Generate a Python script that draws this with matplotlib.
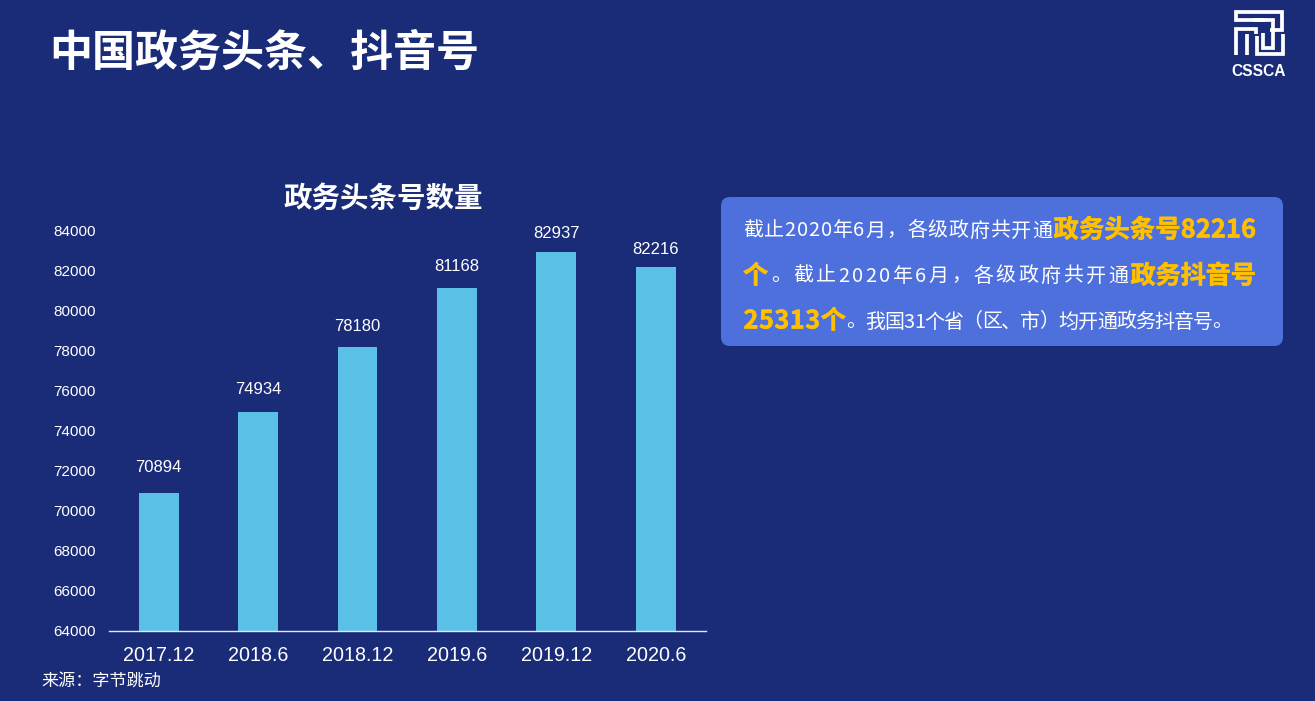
"""中国政务头条、抖音号 — 政务头条号数量柱状图"""

import matplotlib
matplotlib.use("Agg")
import matplotlib.pyplot as plt
import matplotlib.patheffects as pe
from matplotlib.lines import Line2D
from matplotlib.patches import FancyBboxPatch
from matplotlib.transforms import Affine2D

plt.rcParams["font.family"] = ["Noto Sans CJK SC", "DejaVu Sans"]

W, H = 1315, 701
BG = "#1a2c78"
BAR = "#5bc0e6"
BOX = "#4e70dc"
GOLD = "#ffc000"

periods = ["2017.12", "2018.6", "2018.12", "2019.6", "2019.12", "2020.6"]
counts = [70894, 74934, 78180, 81168, 82937, 82216]
y_ticks = [64000, 66000, 68000, 70000, 72000, 74000, 76000, 78000, 80000, 82000, 84000]
# 数值标签离柱顶的距离 (px), 原图并不等距
label_gaps = [26, 23, 21, 21, 19, 17]

fig = plt.figure(figsize=(W / 100, H / 100), dpi=100, facecolor=BG)
# 全图用像素坐标, y 向下
px = Affine2D().scale(1, -1).translate(0, H)


def put(x, y, s, size, color="white", weight="normal", ha="left", **kw):
    return fig.text(x, y, s, transform=px, fontsize=size, color=color,
                    fontweight=weight, ha=ha, va="center", **kw)


def spread(s, x0, x1, y, size, color="white", weight="normal"):
    """逐字排版, 把字均匀撑满 x0..x1."""
    renderer = fig.canvas.get_renderer()
    items = [put(0, y, c, size, color, weight) for c in s]
    advance = []
    for c, t in zip(s, items):
        w = t.get_window_extent(renderer).width
        advance.append(size * 100 / 72 if ord(c) > 255 else w)
        if weight == "bold":
            # 原图金色字比 Bold 更粗
            t.set_path_effects([pe.withStroke(linewidth=0.4, foreground=color)])
    gap = (x1 - x0 - sum(advance)) / max(len(s) - 1, 1)
    x = x0
    for t, a in zip(items, advance):
        t.set_x(x)
        x += a + gap


ax = fig.add_axes([109 / W, 1 - 631 / H, 596.5 / W, 400 / H])
ax.set_facecolor(BG)
ax.bar(range(len(periods)), counts, width=0.4, color=BAR, zorder=2)
for i, v in enumerate(counts):
    ax.annotate(str(v), (i, v), xytext=(0, label_gaps[i] * 0.72), textcoords="offset points",
                ha="center", va="center", color="white", fontsize=12,
                family="Liberation Sans")
ax.set_xlim(-0.5, 5.5)
ax.set_ylim(64000, 84000)
ax.set_yticks(y_ticks)
ax.set_xticks(range(len(periods)))
ax.set_xticklabels(periods, fontsize=14.2, family="Liberation Sans", color="white")
for lab in ax.get_yticklabels():
    lab.set_fontsize(11)
    lab.set_family("Liberation Sans")
    lab.set_color("white")
ax.tick_params(length=0)
ax.tick_params(axis="x", pad=10.5)
ax.tick_params(axis="y", pad=9.5)
for side in ["top", "right", "left"]:
    ax.spines[side].set_visible(False)
ax.spines["bottom"].set_color("#dfe6f5")
ax.spines["bottom"].set_linewidth(1.0)

put(49, 54, "中国政务头条、抖音号", 31, weight="bold")
put(383, 199, "政务头条号数量", 20.5, weight="bold", ha="center")
put(41, 681, "来源：字节跳动", 12.3)

fig.add_artist(FancyBboxPatch((727, 203), 550, 137, boxstyle="round,pad=6,rounding_size=9",
                              transform=px, facecolor=BOX, edgecolor="none"))

spread("截止2020年6月，各级政府共开通", 743, 1052, 231, 14.4)
spread("政务头条号82216", 1053.5, 1256, 230, 18.2, GOLD, "bold")
spread("个", 743, 767, 276, 18.2, GOLD, "bold")
spread("。截止2020年6月，各级政府共开通", 771, 1128, 276, 14.4)
spread("政务抖音号", 1130.5, 1256, 276, 18.2, GOLD, "bold")
spread("25313个", 743.5, 846, 321, 18.2, GOLD, "bold")
spread("。我国31个省（区、市）均开通政务抖音号。", 846, 1232, 322, 14.4)

# logo
logo_paths = [
    [(1265, 20), (1236, 20), (1236, 11.5), (1282, 11.5), (1282, 30), (1270, 30)],
    [(1253, 20), (1273, 20), (1273, 48), (1263, 48), (1263, 33)],
    [(1236, 55), (1236, 29), (1256, 29), (1256, 34)],
    [(1247, 55), (1247, 34)],
    [(1257, 36), (1257, 53.5), (1283, 53.5), (1283, 34)],
]
for path in logo_paths:
    fig.add_artist(Line2D([p[0] for p in path], [p[1] for p in path], transform=px,
                          color="white", linewidth=2.7, solid_joinstyle="miter",
                          solid_capstyle="butt"))
put(1259, 71, "CSSCA", 11.2, weight="bold", ha="center", family="Liberation Sans")

fig.savefig("out.png", dpi=100, facecolor=BG)
